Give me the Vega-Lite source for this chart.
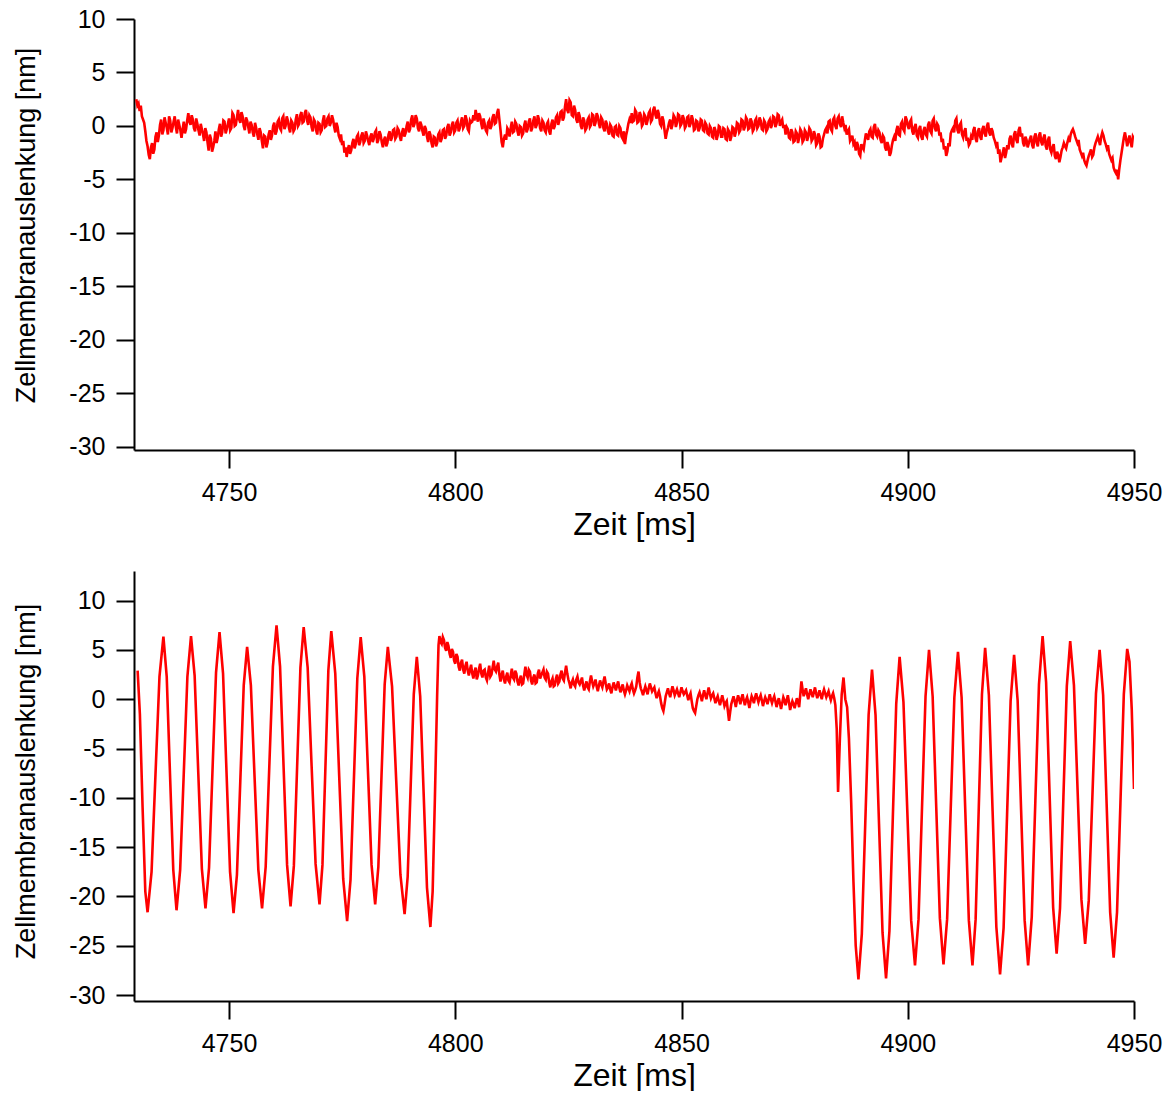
{
"$schema": "https://vega.github.io/schema/vega-lite/v6.json",
"background": "white",
"padding": {"left": 12, "top": 7, "right": 8, "bottom": 0},
"spacing": 31,
"datasets": {
"top": [
{"t":4729.5,"v":2.5},{"t":4729.75,"v":1.9},{"t":4730.0,"v":2.1},{"t":4730.25,"v":1.4},{"t":4730.5,"v":1.9},{"t":4730.75,"v":0.9},{"t":4731.0,"v":0.6},{"t":4731.25,"v":0.3},{"t":4731.5,"v":-0.5},{"t":4731.75,"v":-1.4},
{"t":4732.0,"v":-1.9},{"t":4732.25,"v":-2.7},{"t":4732.5,"v":-3.1},{"t":4732.75,"v":-2.0},{"t":4733.0,"v":-1.6},{"t":4733.25,"v":-2.6},{"t":4733.5,"v":-2.2},{"t":4733.75,"v":-1.0},{"t":4734.0,"v":-0.6},{"t":4734.25,"v":-1.5},
{"t":4734.5,"v":-0.9},{"t":4734.75,"v":0.1},{"t":4735.0,"v":0.6},{"t":4735.25,"v":-0.8},{"t":4735.5,"v":-0.4},{"t":4735.75,"v":0.8},{"t":4736.0,"v":0.3},{"t":4736.25,"v":-0.2},{"t":4736.5,"v":-0.8},{"t":4736.75,"v":0.9},
{"t":4737.0,"v":0.5},{"t":4737.25,"v":-0.6},{"t":4737.5,"v":-0.2},{"t":4737.75,"v":0.4},{"t":4738.0,"v":0.9},{"t":4738.25,"v":-0.1},{"t":4738.5,"v":-0.7},{"t":4738.75,"v":0.6},{"t":4739.0,"v":0.1},{"t":4739.25,"v":-0.4},
{"t":4739.5,"v":-1.1},{"t":4739.75,"v":-0.3},{"t":4740.0,"v":0.4},{"t":4740.25,"v":-0.7},{"t":4740.5,"v":-0.3},{"t":4740.75,"v":0.5},{"t":4741.0,"v":1.2},{"t":4741.25,"v":0.4},{"t":4741.5,"v":0.1},{"t":4741.75,"v":1.0},
{"t":4742.0,"v":0.6},{"t":4742.25,"v":-0.2},{"t":4742.5,"v":-0.5},{"t":4742.75,"v":0.7},{"t":4743.0,"v":0.2},{"t":4743.25,"v":-0.4},{"t":4743.5,"v":-0.9},{"t":4743.75,"v":0.2},{"t":4744.0,"v":-0.3},{"t":4744.25,"v":-0.8},
{"t":4744.5,"v":-1.4},{"t":4744.75,"v":-0.2},{"t":4745.0,"v":-0.6},{"t":4745.25,"v":-1.5},{"t":4745.5,"v":-2.3},{"t":4745.75,"v":-0.8},{"t":4746.0,"v":-1.2},{"t":4746.25,"v":-2.4},{"t":4746.5,"v":-2.0},{"t":4746.75,"v":-1.4},
{"t":4747.0,"v":-0.5},{"t":4747.25,"v":-1.6},{"t":4747.5,"v":-1.1},{"t":4747.75,"v":-0.3},{"t":4748.0,"v":0.2},{"t":4748.25,"v":-1.0},{"t":4748.5,"v":-0.6},{"t":4748.75,"v":0.5},{"t":4749.0,"v":0.4},{"t":4749.25,"v":-0.7},
{"t":4749.5,"v":-0.3},{"t":4749.75,"v":0.2},{"t":4750.0,"v":0.7},{"t":4750.25,"v":-0.4},{"t":4750.5,"v":-0.2},{"t":4750.75,"v":1.2},{"t":4751.0,"v":1.0},{"t":4751.25,"v":0.0},{"t":4751.5,"v":0.1},{"t":4751.75,"v":0.8},
{"t":4752.0,"v":1.5},{"t":4752.25,"v":0.6},{"t":4752.5,"v":0.3},{"t":4752.75,"v":1.3},{"t":4753.0,"v":0.9},{"t":4753.25,"v":0.0},{"t":4753.5,"v":-0.4},{"t":4753.75,"v":0.8},{"t":4754.0,"v":0.5},{"t":4754.25,"v":-0.1},
{"t":4754.5,"v":-0.7},{"t":4754.75,"v":0.4},{"t":4755.0,"v":0.1},{"t":4755.25,"v":-0.6},{"t":4755.5,"v":-1.0},{"t":4755.75,"v":0.3},{"t":4756.0,"v":-0.2},{"t":4756.25,"v":-0.8},{"t":4756.5,"v":-1.3},{"t":4756.75,"v":-0.2},
{"t":4757.0,"v":-0.6},{"t":4757.25,"v":-1.4},{"t":4757.5,"v":-2.1},{"t":4757.75,"v":-0.9},{"t":4758.0,"v":-1.0},{"t":4758.25,"v":-2.0},{"t":4758.5,"v":-1.6},{"t":4758.75,"v":-0.8},{"t":4759.0,"v":-0.4},{"t":4759.25,"v":-1.3},
{"t":4759.5,"v":-0.9},{"t":4759.75,"v":0.0},{"t":4760.0,"v":0.3},{"t":4760.25,"v":-0.8},{"t":4760.5,"v":-0.5},{"t":4760.75,"v":0.4},{"t":4761.0,"v":0.6},{"t":4761.25,"v":-0.2},{"t":4761.5,"v":-0.4},{"t":4761.75,"v":0.7},
{"t":4762.0,"v":0.9},{"t":4762.25,"v":-0.3},{"t":4762.5,"v":0.0},{"t":4762.75,"v":0.9},{"t":4763.0,"v":0.5},{"t":4763.25,"v":-0.2},{"t":4763.5,"v":-0.6},{"t":4763.75,"v":0.5},{"t":4764.0,"v":0.3},{"t":4764.25,"v":-0.5},
{"t":4764.5,"v":-0.3},{"t":4764.75,"v":0.6},{"t":4765.0,"v":1.1},{"t":4765.25,"v":0.0},{"t":4765.5,"v":0.2},{"t":4765.75,"v":1.0},{"t":4766.0,"v":1.3},{"t":4766.25,"v":0.3},{"t":4766.5,"v":0.4},{"t":4766.75,"v":1.2},
{"t":4767.0,"v":1.5},{"t":4767.25,"v":0.5},{"t":4767.5,"v":0.1},{"t":4767.75,"v":1.0},{"t":4768.0,"v":0.8},{"t":4768.25,"v":-0.1},{"t":4768.5,"v":-0.5},{"t":4768.75,"v":0.6},{"t":4769.0,"v":0.4},{"t":4769.25,"v":-0.4},
{"t":4769.5,"v":-0.8},{"t":4769.75,"v":0.3},{"t":4770.0,"v":0.2},{"t":4770.25,"v":-0.6},{"t":4770.5,"v":-0.4},{"t":4770.75,"v":0.5},{"t":4771.0,"v":1.0},{"t":4771.25,"v":-0.1},{"t":4771.5,"v":0.0},{"t":4771.75,"v":0.7},
{"t":4772.0,"v":0.9},{"t":4772.25,"v":0.0},{"t":4772.5,"v":0.3},{"t":4772.75,"v":1.0},{"t":4773.0,"v":0.6},{"t":4773.25,"v":-0.1},{"t":4773.5,"v":-0.6},{"t":4773.75,"v":0.3},{"t":4774.0,"v":-0.1},{"t":4774.25,"v":-0.9},
{"t":4774.5,"v":-1.2},{"t":4774.75,"v":-0.8},{"t":4775.0,"v":-1.8},{"t":4775.25,"v":-1.4},{"t":4775.5,"v":-2.5},{"t":4775.75,"v":-2.0},{"t":4776.0,"v":-2.9},{"t":4776.25,"v":-2.2},{"t":4776.5,"v":-1.8},{"t":4776.75,"v":-2.6},
{"t":4777.0,"v":-2.3},{"t":4777.25,"v":-1.6},{"t":4777.5,"v":-1.2},{"t":4777.75,"v":-2.1},{"t":4778.0,"v":-1.7},{"t":4778.25,"v":-1.0},{"t":4778.5,"v":-0.8},{"t":4778.75,"v":-1.8},{"t":4779.0,"v":-1.5},{"t":4779.25,"v":-0.9},
{"t":4779.5,"v":-0.6},{"t":4779.75,"v":-1.6},{"t":4780.0,"v":-1.4},{"t":4780.25,"v":-0.5},{"t":4780.5,"v":-0.9},{"t":4780.75,"v":-1.4},{"t":4781.0,"v":-1.8},{"t":4781.25,"v":-1.0},{"t":4781.5,"v":-0.7},{"t":4781.75,"v":-1.5},
{"t":4782.0,"v":-1.2},{"t":4782.25,"v":-0.6},{"t":4782.5,"v":-0.4},{"t":4782.75,"v":-1.6},{"t":4783.0,"v":-1.3},{"t":4783.25,"v":-0.5},{"t":4783.5,"v":-0.8},{"t":4783.75,"v":-1.5},{"t":4784.0,"v":-2.0},{"t":4784.25,"v":-1.3},
{"t":4784.5,"v":-1.0},{"t":4784.75,"v":-1.9},{"t":4785.0,"v":-1.6},{"t":4785.25,"v":-0.8},{"t":4785.5,"v":-0.5},{"t":4785.75,"v":-1.4},{"t":4786.0,"v":-1.1},{"t":4786.25,"v":-0.4},{"t":4786.5,"v":-0.3},{"t":4786.75,"v":-1.2},
{"t":4787.0,"v":-1.0},{"t":4787.25,"v":-0.2},{"t":4787.5,"v":-0.4},{"t":4787.75,"v":-1.0},{"t":4788.0,"v":-1.4},{"t":4788.25,"v":-0.6},{"t":4788.5,"v":-0.2},{"t":4788.75,"v":-1.0},{"t":4789.0,"v":-0.7},{"t":4789.25,"v":0.0},
{"t":4789.5,"v":0.4},{"t":4789.75,"v":-0.6},{"t":4790.0,"v":-0.3},{"t":4790.25,"v":0.6},{"t":4790.5,"v":1.0},{"t":4790.75,"v":-0.1},{"t":4791.0,"v":0.2},{"t":4791.25,"v":1.0},{"t":4791.5,"v":0.7},{"t":4791.75,"v":-0.2},
{"t":4792.0,"v":-0.5},{"t":4792.25,"v":0.4},{"t":4792.5,"v":0.1},{"t":4792.75,"v":-0.5},{"t":4793.0,"v":-0.9},{"t":4793.25,"v":0.0},{"t":4793.5,"v":-0.3},{"t":4793.75,"v":-1.0},{"t":4794.0,"v":-1.5},{"t":4794.25,"v":-0.5},
{"t":4794.5,"v":-0.8},{"t":4794.75,"v":-1.6},{"t":4795.0,"v":-2.0},{"t":4795.25,"v":-1.0},{"t":4795.5,"v":-1.1},{"t":4795.75,"v":-1.9},{"t":4796.0,"v":-1.6},{"t":4796.25,"v":-0.8},{"t":4796.5,"v":-0.6},{"t":4796.75,"v":-1.5},
{"t":4797.0,"v":-1.2},{"t":4797.25,"v":-0.4},{"t":4797.5,"v":-0.3},{"t":4797.75,"v":-1.2},{"t":4798.0,"v":-0.9},{"t":4798.25,"v":-0.1},{"t":4798.5,"v":0.2},{"t":4798.75,"v":-0.9},{"t":4799.0,"v":-0.6},{"t":4799.25,"v":0.1},
{"t":4799.5,"v":0.4},{"t":4799.75,"v":-0.6},{"t":4800.0,"v":-0.4},{"t":4800.25,"v":0.3},{"t":4800.5,"v":0.5},{"t":4800.75,"v":-0.5},{"t":4801.0,"v":-0.2},{"t":4801.25,"v":0.4},{"t":4801.5,"v":0.8},{"t":4801.75,"v":-0.2},
{"t":4802.0,"v":0.0},{"t":4802.25,"v":1.0},{"t":4802.5,"v":0.6},{"t":4802.75,"v":-0.3},{"t":4803.0,"v":-0.5},{"t":4803.25,"v":0.5},{"t":4803.5,"v":0.3},{"t":4803.75,"v":0.4},{"t":4804.0,"v":1.0},{"t":4804.25,"v":0.5},
{"t":4804.5,"v":1.5},{"t":4804.75,"v":0.9},{"t":4805.0,"v":0.4},{"t":4805.25,"v":1.2},{"t":4805.5,"v":0.9},{"t":4805.75,"v":0.2},{"t":4806.0,"v":-0.3},{"t":4806.25,"v":0.7},{"t":4806.5,"v":0.2},{"t":4806.75,"v":-0.4},
{"t":4807.0,"v":-0.6},{"t":4807.25,"v":0.3},{"t":4807.5,"v":0.5},{"t":4807.75,"v":-0.3},{"t":4808.0,"v":0.0},{"t":4808.25,"v":0.8},{"t":4808.5,"v":1.1},{"t":4808.75,"v":0.2},{"t":4809.0,"v":0.3},{"t":4809.25,"v":1.2},
{"t":4809.5,"v":1.6},{"t":4809.75,"v":0.6},{"t":4810.0,"v":-0.4},{"t":4810.25,"v":-1.5},{"t":4810.5,"v":-2.0},{"t":4810.75,"v":-1.2},{"t":4811.0,"v":-0.8},{"t":4811.25,"v":-1.3},{"t":4811.5,"v":-0.2},{"t":4811.75,"v":-0.4},
{"t":4812.0,"v":-1.0},{"t":4812.25,"v":-0.2},{"t":4812.5,"v":0.4},{"t":4812.75,"v":-0.6},{"t":4813.0,"v":-0.5},{"t":4813.25,"v":0.4},{"t":4813.5,"v":0.2},{"t":4813.75,"v":-0.5},{"t":4814.0,"v":-0.9},{"t":4814.25,"v":0.0},
{"t":4814.5,"v":-0.1},{"t":4814.75,"v":-0.9},{"t":4815.0,"v":-0.7},{"t":4815.25,"v":0.1},{"t":4815.5,"v":0.5},{"t":4815.75,"v":-0.6},{"t":4816.0,"v":-0.3},{"t":4816.25,"v":0.4},{"t":4816.5,"v":0.7},{"t":4816.75,"v":-0.5},
{"t":4817.0,"v":-0.2},{"t":4817.25,"v":0.5},{"t":4817.5,"v":0.9},{"t":4817.75,"v":-0.2},{"t":4818.0,"v":0.1},{"t":4818.25,"v":1.0},{"t":4818.5,"v":0.6},{"t":4818.75,"v":-0.2},{"t":4819.0,"v":-0.5},{"t":4819.25,"v":0.5},
{"t":4819.5,"v":0.3},{"t":4819.75,"v":-0.4},{"t":4820.0,"v":-0.6},{"t":4820.25,"v":0.2},{"t":4820.5,"v":0.4},{"t":4820.75,"v":-0.5},{"t":4821.0,"v":-0.8},{"t":4821.25,"v":0.2},{"t":4821.5,"v":0.6},{"t":4821.75,"v":-0.3},
{"t":4822.0,"v":0.0},{"t":4822.25,"v":0.8},{"t":4822.5,"v":1.0},{"t":4822.75,"v":0.1},{"t":4823.0,"v":0.5},{"t":4823.25,"v":1.3},{"t":4823.5,"v":1.4},{"t":4823.75,"v":0.5},{"t":4824.0,"v":0.8},{"t":4824.25,"v":1.8},
{"t":4824.5,"v":2.5},{"t":4824.75,"v":1.5},{"t":4825.0,"v":1.2},{"t":4825.25,"v":2.4},{"t":4825.5,"v":2.2},{"t":4825.75,"v":1.0},{"t":4826.0,"v":0.9},{"t":4826.25,"v":1.9},{"t":4826.5,"v":1.5},{"t":4826.75,"v":0.6},
{"t":4827.0,"v":0.3},{"t":4827.25,"v":1.3},{"t":4827.5,"v":0.9},{"t":4827.75,"v":0.0},{"t":4828.0,"v":-0.3},{"t":4828.25,"v":0.8},{"t":4828.5,"v":0.5},{"t":4828.75,"v":-0.4},{"t":4829.0,"v":-0.2},{"t":4829.25,"v":0.6},
{"t":4829.5,"v":0.8},{"t":4829.75,"v":-0.1},{"t":4830.0,"v":0.1},{"t":4830.25,"v":1.1},{"t":4830.5,"v":1.0},{"t":4830.75,"v":0.0},{"t":4831.0,"v":0.3},{"t":4831.25,"v":1.2},{"t":4831.5,"v":0.9},{"t":4831.75,"v":0.2},
{"t":4832.0,"v":-0.2},{"t":4832.25,"v":0.8},{"t":4832.5,"v":0.6},{"t":4832.75,"v":-0.2},{"t":4833.0,"v":-0.5},{"t":4833.25,"v":0.5},{"t":4833.5,"v":0.2},{"t":4833.75,"v":-0.5},{"t":4834.0,"v":-0.8},{"t":4834.25,"v":0.1},
{"t":4834.5,"v":-0.1},{"t":4834.75,"v":-0.9},{"t":4835.0,"v":-1.0},{"t":4835.25,"v":-0.1},{"t":4835.5,"v":0.0},{"t":4835.75,"v":-0.8},{"t":4836.0,"v":-0.9},{"t":4836.25,"v":0.0},{"t":4836.5,"v":-0.2},{"t":4836.75,"v":-1.0},
{"t":4837.0,"v":-1.2},{"t":4837.25,"v":-0.5},{"t":4837.5,"v":-1.7},{"t":4837.75,"v":-0.9},{"t":4838.0,"v":-0.4},{"t":4838.25,"v":0.2},{"t":4838.5,"v":0.6},{"t":4838.75,"v":0.3},{"t":4839.0,"v":1.2},{"t":4839.25,"v":0.4},
{"t":4839.5,"v":0.5},{"t":4839.75,"v":1.5},{"t":4840.0,"v":1.3},{"t":4840.25,"v":0.3},{"t":4840.5,"v":0.4},{"t":4840.75,"v":1.3},{"t":4841.0,"v":1.0},{"t":4841.25,"v":0.0},{"t":4841.5,"v":0.2},{"t":4841.75,"v":1.1},
{"t":4842.0,"v":0.9},{"t":4842.25,"v":0.1},{"t":4842.5,"v":0.5},{"t":4842.75,"v":1.2},{"t":4843.0,"v":1.4},{"t":4843.25,"v":0.4},{"t":4843.5,"v":0.6},{"t":4843.75,"v":1.5},{"t":4844.0,"v":1.8},{"t":4844.25,"v":1.0},
{"t":4844.5,"v":0.7},{"t":4844.75,"v":1.5},{"t":4845.0,"v":1.1},{"t":4845.25,"v":0.2},{"t":4845.5,"v":0.0},{"t":4845.75,"v":0.9},{"t":4846.0,"v":0.5},{"t":4846.25,"v":-0.4},{"t":4846.5,"v":-1.2},{"t":4846.75,"v":-0.6},
{"t":4847.0,"v":-0.2},{"t":4847.25,"v":0.3},{"t":4847.5,"v":0.6},{"t":4847.75,"v":-0.3},{"t":4848.0,"v":0.1},{"t":4848.25,"v":1.0},{"t":4848.5,"v":0.8},{"t":4848.75,"v":-0.1},{"t":4849.0,"v":0.3},{"t":4849.25,"v":1.1},
{"t":4849.5,"v":1.0},{"t":4849.75,"v":0.0},{"t":4850.0,"v":0.2},{"t":4850.25,"v":1.0},{"t":4850.5,"v":0.7},{"t":4850.75,"v":-0.2},{"t":4851.0,"v":0.0},{"t":4851.25,"v":0.8},{"t":4851.5,"v":0.9},{"t":4851.75,"v":-0.1},
{"t":4852.0,"v":0.2},{"t":4852.25,"v":1.0},{"t":4852.5,"v":0.6},{"t":4852.75,"v":-0.4},{"t":4853.0,"v":-0.3},{"t":4853.25,"v":0.5},{"t":4853.5,"v":0.4},{"t":4853.75,"v":-0.5},{"t":4854.0,"v":-0.2},{"t":4854.25,"v":0.6},
{"t":4854.5,"v":0.5},{"t":4854.75,"v":-0.4},{"t":4855.0,"v":-0.5},{"t":4855.25,"v":0.3},{"t":4855.5,"v":0.1},{"t":4855.75,"v":-0.7},{"t":4856.0,"v":-0.8},{"t":4856.25,"v":0.0},{"t":4856.5,"v":-0.2},{"t":4856.75,"v":-1.0},
{"t":4857.0,"v":-1.1},{"t":4857.25,"v":-0.1},{"t":4857.5,"v":-0.4},{"t":4857.75,"v":-1.3},{"t":4858.0,"v":-0.9},{"t":4858.25,"v":0.0},{"t":4858.5,"v":-0.1},{"t":4858.75,"v":-1.0},{"t":4859.0,"v":-1.0},{"t":4859.25,"v":-0.2},
{"t":4859.5,"v":-0.3},{"t":4859.75,"v":-1.2},{"t":4860.0,"v":-1.3},{"t":4860.25,"v":-0.3},{"t":4860.5,"v":-0.5},{"t":4860.75,"v":-1.4},{"t":4861.0,"v":-1.0},{"t":4861.25,"v":-0.1},{"t":4861.5,"v":-0.2},{"t":4861.75,"v":-1.0},
{"t":4862.0,"v":-0.6},{"t":4862.25,"v":0.3},{"t":4862.5,"v":0.2},{"t":4862.75,"v":-0.6},{"t":4863.0,"v":-0.4},{"t":4863.25,"v":0.6},{"t":4863.5,"v":0.5},{"t":4863.75,"v":-0.4},{"t":4864.0,"v":-0.1},{"t":4864.25,"v":0.8},
{"t":4864.5,"v":0.6},{"t":4864.75,"v":-0.3},{"t":4865.0,"v":-0.2},{"t":4865.25,"v":0.7},{"t":4865.5,"v":0.4},{"t":4865.75,"v":-0.5},{"t":4866.0,"v":-0.3},{"t":4866.25,"v":0.5},{"t":4866.5,"v":0.7},{"t":4866.75,"v":-0.2},
{"t":4867.0,"v":0.0},{"t":4867.25,"v":0.8},{"t":4867.5,"v":0.5},{"t":4867.75,"v":-0.3},{"t":4868.0,"v":-0.4},{"t":4868.25,"v":0.5},{"t":4868.5,"v":0.3},{"t":4868.75,"v":-0.5},{"t":4869.0,"v":-0.3},{"t":4869.25,"v":0.4},
{"t":4869.5,"v":0.6},{"t":4869.75,"v":-0.2},{"t":4870.0,"v":0.1},{"t":4870.25,"v":0.9},{"t":4870.5,"v":0.8},{"t":4870.75,"v":-0.1},{"t":4871.0,"v":0.2},{"t":4871.25,"v":1.1},{"t":4871.5,"v":1.0},{"t":4871.75,"v":0.0},
{"t":4872.0,"v":0.4},{"t":4872.25,"v":0.6},{"t":4872.5,"v":-0.2},{"t":4872.75,"v":0.1},{"t":4873.0,"v":-0.8},{"t":4873.25,"v":-0.1},{"t":4873.5,"v":-0.3},{"t":4873.75,"v":-1.1},{"t":4874.0,"v":-1.2},{"t":4874.25,"v":-0.3},
{"t":4874.5,"v":-0.6},{"t":4874.75,"v":-1.5},{"t":4875.0,"v":-1.4},{"t":4875.25,"v":-0.5},{"t":4875.5,"v":-0.7},{"t":4875.75,"v":-1.6},{"t":4876.0,"v":-1.1},{"t":4876.25,"v":-0.3},{"t":4876.5,"v":-0.5},{"t":4876.75,"v":-1.5},
{"t":4877.0,"v":-1.3},{"t":4877.25,"v":-0.4},{"t":4877.5,"v":-0.6},{"t":4877.75,"v":-1.4},{"t":4878.0,"v":-1.0},{"t":4878.25,"v":-0.2},{"t":4878.5,"v":-0.4},{"t":4878.75,"v":-1.4},{"t":4879.0,"v":-1.2},{"t":4879.25,"v":-0.5},
{"t":4879.5,"v":-0.8},{"t":4879.75,"v":-1.8},{"t":4880.0,"v":-1.6},{"t":4880.25,"v":-0.7},{"t":4880.5,"v":-1.0},{"t":4880.75,"v":-2.0},{"t":4881.0,"v":-1.9},{"t":4881.25,"v":-1.2},{"t":4881.5,"v":-0.8},{"t":4881.75,"v":-0.4},
{"t":4882.0,"v":-0.2},{"t":4882.25,"v":-0.7},{"t":4882.5,"v":0.4},{"t":4882.75,"v":0.5},{"t":4883.0,"v":-0.3},{"t":4883.25,"v":-0.5},{"t":4883.5,"v":0.6},{"t":4883.75,"v":0.8},{"t":4884.0,"v":0.0},{"t":4884.25,"v":-0.3},
{"t":4884.5,"v":0.7},{"t":4884.75,"v":0.9},{"t":4885.0,"v":0.2},{"t":4885.25,"v":-0.1},{"t":4885.5,"v":0.9},{"t":4885.75,"v":0.3},{"t":4886.0,"v":-0.2},{"t":4886.25,"v":0.1},{"t":4886.5,"v":-0.8},{"t":4886.75,"v":-0.5},
{"t":4887.0,"v":-0.3},{"t":4887.25,"v":-1.4},{"t":4887.5,"v":-1.2},{"t":4887.75,"v":-0.9},{"t":4888.0,"v":-1.7},{"t":4888.25,"v":-1.5},{"t":4888.5,"v":-2.3},{"t":4888.75,"v":-1.5},{"t":4889.0,"v":-1.8},{"t":4889.25,"v":-2.6},
{"t":4889.5,"v":-2.8},{"t":4889.75,"v":-1.7},{"t":4890.0,"v":-2.0},{"t":4890.25,"v":-2.2},{"t":4890.5,"v":-1.4},{"t":4890.75,"v":-0.7},{"t":4891.0,"v":-1.0},{"t":4891.25,"v":-1.3},{"t":4891.5,"v":-0.5},{"t":4891.75,"v":-0.3},
{"t":4892.0,"v":-1.0},{"t":4892.25,"v":-1.1},{"t":4892.5,"v":-0.1},{"t":4892.75,"v":0.2},{"t":4893.0,"v":-0.8},{"t":4893.25,"v":-1.0},{"t":4893.5,"v":-0.4},{"t":4893.75,"v":-0.6},{"t":4894.0,"v":-1.3},{"t":4894.25,"v":-1.6},
{"t":4894.5,"v":-0.9},{"t":4894.75,"v":-1.1},{"t":4895.0,"v":-2.0},{"t":4895.25,"v":-2.3},{"t":4895.5,"v":-1.5},{"t":4895.75,"v":-1.9},{"t":4896.0,"v":-2.8},{"t":4896.25,"v":-2.5},{"t":4896.5,"v":-1.8},{"t":4896.75,"v":-1.3},
{"t":4897.0,"v":-1.0},{"t":4897.25,"v":-1.4},{"t":4897.5,"v":-0.4},{"t":4897.75,"v":0.0},{"t":4898.0,"v":-0.8},{"t":4898.25,"v":-0.9},{"t":4898.5,"v":0.2},{"t":4898.75,"v":0.4},{"t":4899.0,"v":-0.3},{"t":4899.25,"v":-0.5},
{"t":4899.5,"v":0.9},{"t":4899.75,"v":0.6},{"t":4900.0,"v":0.0},{"t":4900.25,"v":-0.3},{"t":4900.5,"v":0.4},{"t":4900.75,"v":0.6},{"t":4901.0,"v":-0.5},{"t":4901.25,"v":-0.8},{"t":4901.5,"v":-0.1},{"t":4901.75,"v":0.2},
{"t":4902.0,"v":-0.9},{"t":4902.25,"v":-1.1},{"t":4902.5,"v":-0.3},{"t":4902.75,"v":0.0},{"t":4903.0,"v":-1.0},{"t":4903.25,"v":-1.3},{"t":4903.5,"v":-0.4},{"t":4903.75,"v":-0.1},{"t":4904.0,"v":-0.8},{"t":4904.25,"v":-1.0},
{"t":4904.5,"v":0.1},{"t":4904.75,"v":0.4},{"t":4905.0,"v":-0.5},{"t":4905.25,"v":-0.7},{"t":4905.5,"v":0.5},{"t":4905.75,"v":0.7},{"t":4906.0,"v":-0.2},{"t":4906.25,"v":-0.5},{"t":4906.5,"v":0.2},{"t":4906.75,"v":0.0},
{"t":4907.0,"v":-0.9},{"t":4907.25,"v":-0.6},{"t":4907.5,"v":-1.5},{"t":4907.75,"v":-1.2},{"t":4908.0,"v":-2.2},{"t":4908.25,"v":-1.9},{"t":4908.5,"v":-2.8},{"t":4908.75,"v":-2.4},{"t":4909.0,"v":-1.6},{"t":4909.25,"v":-1.9},
{"t":4909.5,"v":-0.7},{"t":4909.75,"v":-0.4},{"t":4910.0,"v":-0.2},{"t":4910.25,"v":-0.6},{"t":4910.5,"v":0.5},{"t":4910.75,"v":0.7},{"t":4911.0,"v":-0.4},{"t":4911.25,"v":-0.7},{"t":4911.5,"v":0.1},{"t":4911.75,"v":0.3},
{"t":4912.0,"v":-0.8},{"t":4912.25,"v":-1.1},{"t":4912.5,"v":-0.5},{"t":4912.75,"v":-0.2},{"t":4913.0,"v":-1.4},{"t":4913.25,"v":-1.1},{"t":4913.5,"v":-1.8},{"t":4913.75,"v":-1.6},{"t":4914.0,"v":-1.0},{"t":4914.25,"v":-1.3},
{"t":4914.5,"v":-0.4},{"t":4914.75,"v":-0.1},{"t":4915.0,"v":-1.2},{"t":4915.25,"v":-1.5},{"t":4915.5,"v":-0.5},{"t":4915.75,"v":-0.2},{"t":4916.0,"v":-1.0},{"t":4916.25,"v":-1.3},{"t":4916.5,"v":-0.3},{"t":4916.75,"v":0.0},
{"t":4917.0,"v":-0.7},{"t":4917.25,"v":-1.0},{"t":4917.5,"v":0.0},{"t":4917.75,"v":0.3},{"t":4918.0,"v":-0.6},{"t":4918.25,"v":-0.9},{"t":4918.5,"v":-0.2},{"t":4918.75,"v":-0.5},{"t":4919.0,"v":-1.1},{"t":4919.25,"v":-1.4},
{"t":4919.5,"v":-1.8},{"t":4919.75,"v":-1.5},{"t":4920.0,"v":-2.6},{"t":4920.25,"v":-2.2},{"t":4920.5,"v":-3.4},{"t":4920.75,"v":-2.9},{"t":4921.0,"v":-2.5},{"t":4921.25,"v":-2.0},{"t":4921.5,"v":-3.0},{"t":4921.75,"v":-2.5},
{"t":4922.0,"v":-1.8},{"t":4922.25,"v":-2.2},{"t":4922.5,"v":-1.2},{"t":4922.75,"v":-0.9},{"t":4923.0,"v":-1.7},{"t":4923.25,"v":-2.0},{"t":4923.5,"v":-0.8},{"t":4923.75,"v":-0.5},{"t":4924.0,"v":-1.3},{"t":4924.25,"v":-1.6},
{"t":4924.5,"v":-0.4},{"t":4924.75,"v":-0.1},{"t":4925.0,"v":-1.0},{"t":4925.25,"v":-0.7},{"t":4925.5,"v":-1.6},{"t":4925.75,"v":-1.9},{"t":4926.0,"v":-1.0},{"t":4926.25,"v":-1.3},{"t":4926.5,"v":-2.0},{"t":4926.75,"v":-1.6},
{"t":4927.0,"v":-1.2},{"t":4927.25,"v":-0.9},{"t":4927.5,"v":-1.8},{"t":4927.75,"v":-2.1},{"t":4928.0,"v":-1.0},{"t":4928.25,"v":-0.7},{"t":4928.5,"v":-1.6},{"t":4928.75,"v":-1.9},{"t":4929.0,"v":-0.9},{"t":4929.25,"v":-0.6},
{"t":4929.5,"v":-1.5},{"t":4929.75,"v":-1.8},{"t":4930.0,"v":-1.1},{"t":4930.25,"v":-0.8},{"t":4930.5,"v":-1.9},{"t":4930.75,"v":-2.2},{"t":4931.0,"v":-1.3},{"t":4931.25,"v":-1.0},{"t":4931.5,"v":-2.2},{"t":4931.75,"v":-2.5},
{"t":4932.0,"v":-2.0},{"t":4932.25,"v":-1.7},{"t":4932.5,"v":-2.8},{"t":4932.75,"v":-3.1},{"t":4933.0,"v":-2.4},{"t":4933.25,"v":-2.7},{"t":4933.5,"v":-3.4},{"t":4933.75,"v":-2.9},{"t":4934.0,"v":-2.3},{"t":4934.25,"v":-2.0},
{"t":4934.5,"v":-1.6},{"t":4934.75,"v":-1.9},{"t":4935.0,"v":-2.1},{"t":4935.25,"v":-1.6},{"t":4935.5,"v":-1.2},{"t":4935.75,"v":-1.5},{"t":4936.0,"v":-0.8},{"t":4936.25,"v":-0.5},{"t":4936.5,"v":-0.3},{"t":4936.75,"v":-0.6},
{"t":4937.0,"v":-1.0},{"t":4937.25,"v":-1.3},{"t":4937.5,"v":-1.6},{"t":4937.75,"v":-1.3},{"t":4938.0,"v":-2.2},{"t":4938.25,"v":-2.5},{"t":4938.5,"v":-2.8},{"t":4938.75,"v":-2.5},{"t":4939.0,"v":-3.2},{"t":4939.25,"v":-3.5},
{"t":4939.5,"v":-3.7},{"t":4939.75,"v":-3.2},{"t":4940.0,"v":-2.8},{"t":4940.25,"v":-2.5},{"t":4940.5,"v":-2.2},{"t":4940.75,"v":-2.9},{"t":4941.0,"v":-2.7},{"t":4941.25,"v":-2.0},{"t":4941.5,"v":-1.6},{"t":4941.75,"v":-1.3},
{"t":4942.0,"v":-1.0},{"t":4942.25,"v":-1.4},{"t":4942.5,"v":-1.8},{"t":4942.75,"v":-1.0},{"t":4943.0,"v":-0.6},{"t":4943.25,"v":-0.9},{"t":4943.5,"v":-1.4},{"t":4943.75,"v":-1.7},{"t":4944.0,"v":-2.1},{"t":4944.25,"v":-1.8},
{"t":4944.5,"v":-2.6},{"t":4944.75,"v":-2.9},{"t":4945.0,"v":-3.2},{"t":4945.25,"v":-3.0},{"t":4945.5,"v":-3.9},{"t":4945.75,"v":-4.2},{"t":4946.0,"v":-4.4},{"t":4946.25,"v":-4.1},{"t":4946.5,"v":-5.0},{"t":4946.75,"v":-4.0},
{"t":4947.0,"v":-3.2},{"t":4947.25,"v":-2.5},{"t":4947.5,"v":-1.8},{"t":4947.75,"v":-1.1},{"t":4948.0,"v":-0.6},{"t":4948.25,"v":-1.2},{"t":4948.5,"v":-1.9},{"t":4948.75,"v":-1.4},{"t":4949.0,"v":-0.9},{"t":4949.25,"v":-1.5},
{"t":4949.5,"v":-2.0},{"t":4949.75,"v":-1.0},{"t":4950.0,"v":-1.2}
],
"bottom": [
{"t":4729.8,"v":2.9},{"t":4730.3,"v":-1.5},{"t":4730.9,"v":-11.0},{"t":4731.5,"v":-19.5},{"t":4732.0,"v":-21.6},{"t":4732.88,"v":-17.5},{"t":4733.75,"v":-7.6},{"t":4734.63,"v":2.3},
{"t":4735.5,"v":6.35},{"t":4736.23,"v":2.3},{"t":4736.95,"v":-7.5},{"t":4737.68,"v":-17.3},{"t":4738.4,"v":-21.4},{"t":4739.2,"v":-17.3},{"t":4740.0,"v":-7.5},{"t":4740.8,"v":2.3},
{"t":4741.6,"v":6.4},{"t":4742.4,"v":2.4},{"t":4743.2,"v":-7.4},{"t":4744.0,"v":-17.2},{"t":4744.8,"v":-21.2},{"t":4745.58,"v":-17.1},{"t":4746.35,"v":-7.2},{"t":4747.13,"v":2.7},
{"t":4747.9,"v":6.8},{"t":4748.68,"v":2.6},{"t":4749.45,"v":-7.45},{"t":4750.23,"v":-17.5},{"t":4751.0,"v":-21.7},{"t":4751.75,"v":-17.8},{"t":4752.5,"v":-8.2},{"t":4753.25,"v":1.4},
{"t":4754.0,"v":5.3},{"t":4754.83,"v":1.4},{"t":4755.65,"v":-7.95},{"t":4756.48,"v":-17.3},{"t":4757.3,"v":-21.2},{"t":4758.1,"v":-17.0},{"t":4758.9,"v":-6.85},{"t":4759.7,"v":3.3},
{"t":4760.5,"v":7.5},{"t":4761.28,"v":3.3},{"t":4762.05,"v":-6.75},{"t":4762.83,"v":-16.8},{"t":4763.6,"v":-21.0},{"t":4764.33,"v":-16.9},{"t":4765.05,"v":-6.85},{"t":4765.78,"v":3.2},
{"t":4766.5,"v":7.3},{"t":4767.38,"v":3.2},{"t":4768.25,"v":-6.75},{"t":4769.13,"v":-16.7},{"t":4770.0,"v":-20.8},{"t":4770.65,"v":-16.8},{"t":4771.3,"v":-6.95},{"t":4771.95,"v":2.9},
{"t":4772.6,"v":6.9},{"t":4773.48,"v":2.6},{"t":4774.35,"v":-7.8},{"t":4775.23,"v":-18.2},{"t":4776.1,"v":-22.5},{"t":4776.85,"v":-18.3},{"t":4777.6,"v":-8.1},{"t":4778.35,"v":2.1},
{"t":4779.1,"v":6.3},{"t":4779.9,"v":2.3},{"t":4780.7,"v":-7.25},{"t":4781.5,"v":-16.8},{"t":4782.3,"v":-20.8},{"t":4783.0,"v":-17.0},{"t":4783.7,"v":-7.75},{"t":4784.4,"v":1.5},
{"t":4785.1,"v":5.3},{"t":4786.03,"v":1.3},{"t":4786.95,"v":-8.25},{"t":4787.88,"v":-17.8},{"t":4788.8,"v":-21.8},{"t":4789.48,"v":-18.0},{"t":4790.15,"v":-8.75},{"t":4790.83,"v":0.5},
{"t":4791.5,"v":4.3},{"t":4792.25,"v":0.3},{"t":4793.0,"v":-9.4},{"t":4793.75,"v":-19.1},{"t":4794.5,"v":-23.1},{"t":4795.0,"v":-19.5},{"t":4795.5,"v":-10.0},{"t":4796.0,"v":0.5},{"t":4796.3,"v":5.5},{"t":4796.5,"v":6.4},
{"t":4796.75,"v":5.8},{"t":4797.0,"v":5.6},{"t":4797.25,"v":6.3},{"t":4797.5,"v":6.0},{"t":4797.75,"v":5.2},{"t":4798.0,"v":4.9},{"t":4798.25,"v":5.8},{"t":4798.5,"v":5.4},{"t":4798.75,"v":4.6},{"t":4799.0,"v":4.2},
{"t":4799.25,"v":5.1},{"t":4799.5,"v":4.8},{"t":4799.75,"v":3.9},{"t":4800.0,"v":3.6},{"t":4800.25,"v":4.6},{"t":4800.5,"v":4.3},{"t":4800.75,"v":3.3},{"t":4801.0,"v":2.9},{"t":4801.25,"v":3.7},{"t":4801.5,"v":4.0},
{"t":4801.75,"v":3.0},{"t":4802.0,"v":2.6},{"t":4802.25,"v":3.4},{"t":4802.5,"v":3.8},{"t":4802.75,"v":2.9},{"t":4803.0,"v":2.4},{"t":4803.25,"v":3.0},{"t":4803.5,"v":3.5},{"t":4803.75,"v":2.6},{"t":4804.0,"v":2.1},
{"t":4804.25,"v":2.8},{"t":4804.5,"v":3.2},{"t":4804.75,"v":2.0},{"t":4805.0,"v":2.4},{"t":4805.25,"v":3.1},{"t":4805.5,"v":3.6},{"t":4805.75,"v":2.6},{"t":4806.0,"v":2.2},{"t":4806.25,"v":2.9},{"t":4806.5,"v":3.0},
{"t":4806.75,"v":2.2},{"t":4807.0,"v":1.9},{"t":4807.25,"v":2.7},{"t":4807.5,"v":3.4},{"t":4807.75,"v":2.3},{"t":4808.0,"v":2.5},{"t":4808.25,"v":3.2},{"t":4808.5,"v":3.9},{"t":4808.75,"v":3.0},{"t":4809.0,"v":2.8},
{"t":4809.25,"v":3.3},{"t":4809.5,"v":3.7},{"t":4809.75,"v":2.5},{"t":4810.0,"v":1.8},{"t":4810.25,"v":2.5},{"t":4810.5,"v":2.9},{"t":4810.75,"v":2.0},{"t":4811.0,"v":1.6},{"t":4811.25,"v":2.3},{"t":4811.5,"v":2.7},
{"t":4811.75,"v":1.9},{"t":4812.0,"v":1.7},{"t":4812.25,"v":2.4},{"t":4812.5,"v":3.1},{"t":4812.75,"v":2.2},{"t":4813.0,"v":2.0},{"t":4813.25,"v":2.9},{"t":4813.5,"v":2.6},{"t":4813.75,"v":1.8},{"t":4814.0,"v":1.4},
{"t":4814.25,"v":2.0},{"t":4814.5,"v":2.4},{"t":4814.75,"v":1.5},{"t":4815.0,"v":1.6},{"t":4815.25,"v":2.5},{"t":4815.5,"v":3.3},{"t":4815.75,"v":2.5},{"t":4816.0,"v":2.2},{"t":4816.25,"v":3.0},{"t":4816.5,"v":2.8},
{"t":4816.75,"v":1.9},{"t":4817.0,"v":1.5},{"t":4817.25,"v":2.2},{"t":4817.5,"v":2.5},{"t":4817.75,"v":1.6},{"t":4818.0,"v":1.7},{"t":4818.25,"v":2.6},{"t":4818.5,"v":3.0},{"t":4818.75,"v":2.1},{"t":4819.0,"v":2.4},
{"t":4819.25,"v":2.7},{"t":4819.5,"v":3.0},{"t":4819.75,"v":2.2},{"t":4820.0,"v":2.0},{"t":4820.25,"v":2.8},{"t":4820.5,"v":2.6},{"t":4820.75,"v":1.7},{"t":4821.0,"v":1.2},{"t":4821.25,"v":1.8},{"t":4821.5,"v":2.1},
{"t":4821.75,"v":1.3},{"t":4822.0,"v":1.4},{"t":4822.25,"v":2.1},{"t":4822.5,"v":2.5},{"t":4822.75,"v":1.6},{"t":4823.0,"v":1.8},{"t":4823.25,"v":2.5},{"t":4823.5,"v":2.9},{"t":4823.75,"v":2.1},{"t":4824.0,"v":1.9},
{"t":4824.25,"v":2.7},{"t":4824.5,"v":3.4},{"t":4824.75,"v":2.6},{"t":4825.0,"v":2.0},{"t":4825.25,"v":1.6},{"t":4825.5,"v":1.1},{"t":4825.75,"v":1.7},{"t":4826.0,"v":2.0},{"t":4826.25,"v":1.5},{"t":4826.5,"v":1.3},
{"t":4826.75,"v":2.0},{"t":4827.0,"v":2.3},{"t":4827.25,"v":1.7},{"t":4827.5,"v":1.5},{"t":4827.75,"v":1.8},{"t":4828.0,"v":2.2},{"t":4828.25,"v":1.4},{"t":4828.5,"v":0.9},{"t":4828.75,"v":1.4},{"t":4829.0,"v":1.8},
{"t":4829.25,"v":1.2},{"t":4829.5,"v":1.0},{"t":4829.75,"v":1.8},{"t":4830.0,"v":2.4},{"t":4830.25,"v":1.8},{"t":4830.5,"v":1.3},{"t":4830.75,"v":1.6},{"t":4831.0,"v":2.0},{"t":4831.25,"v":1.3},{"t":4831.5,"v":0.8},
{"t":4831.75,"v":1.4},{"t":4832.0,"v":1.9},{"t":4832.25,"v":1.5},{"t":4832.5,"v":1.2},{"t":4832.75,"v":1.8},{"t":4833.0,"v":2.3},{"t":4833.25,"v":1.6},{"t":4833.5,"v":1.0},{"t":4833.75,"v":1.2},{"t":4834.0,"v":1.6},
{"t":4834.25,"v":1.0},{"t":4834.5,"v":0.6},{"t":4834.75,"v":1.2},{"t":4835.0,"v":1.7},{"t":4835.25,"v":1.3},{"t":4835.5,"v":0.9},{"t":4835.75,"v":1.4},{"t":4836.0,"v":1.8},{"t":4836.25,"v":1.2},{"t":4836.5,"v":0.7},
{"t":4836.75,"v":1.1},{"t":4837.0,"v":1.5},{"t":4837.25,"v":0.9},{"t":4837.5,"v":0.5},{"t":4837.75,"v":0.9},{"t":4838.0,"v":1.4},{"t":4838.25,"v":1.1},{"t":4838.5,"v":0.8},{"t":4838.75,"v":1.3},{"t":4839.0,"v":1.6},
{"t":4839.25,"v":1.0},{"t":4839.5,"v":0.6},{"t":4839.75,"v":0.9},{"t":4840.0,"v":1.3},{"t":4840.25,"v":2.2},{"t":4840.5,"v":2.8},{"t":4840.75,"v":1.7},{"t":4841.0,"v":1.1},{"t":4841.25,"v":0.8},{"t":4841.5,"v":0.4},
{"t":4841.75,"v":0.9},{"t":4842.0,"v":1.3},{"t":4842.25,"v":0.9},{"t":4842.5,"v":0.5},{"t":4842.75,"v":1.1},{"t":4843.0,"v":1.6},{"t":4843.25,"v":1.2},{"t":4843.5,"v":0.8},{"t":4843.75,"v":1.0},{"t":4844.0,"v":1.2},
{"t":4844.25,"v":0.6},{"t":4844.5,"v":0.1},{"t":4844.75,"v":0.5},{"t":4845.0,"v":0.8},{"t":4845.25,"v":0.3},{"t":4845.5,"v":-0.4},{"t":4845.75,"v":-0.9},{"t":4846.0,"v":-1.2},{"t":4846.25,"v":-0.5},{"t":4846.5,"v":0.3},
{"t":4846.75,"v":0.7},{"t":4847.0,"v":1.1},{"t":4847.25,"v":0.6},{"t":4847.5,"v":0.2},{"t":4847.75,"v":0.8},{"t":4848.0,"v":1.3},{"t":4848.25,"v":0.9},{"t":4848.5,"v":0.4},{"t":4848.75,"v":0.7},{"t":4849.0,"v":1.0},
{"t":4849.25,"v":0.6},{"t":4849.5,"v":0.2},{"t":4849.75,"v":0.7},{"t":4850.0,"v":1.2},{"t":4850.25,"v":0.8},{"t":4850.5,"v":0.5},{"t":4850.75,"v":0.7},{"t":4851.0,"v":0.9},{"t":4851.25,"v":0.4},{"t":4851.5,"v":-0.1},
{"t":4851.75,"v":0.3},{"t":4852.0,"v":0.6},{"t":4852.25,"v":-0.2},{"t":4852.5,"v":-0.9},{"t":4852.75,"v":-1.2},{"t":4853.0,"v":-1.4},{"t":4853.25,"v":-0.7},{"t":4853.5,"v":0.0},{"t":4853.75,"v":0.4},{"t":4854.0,"v":0.7},
{"t":4854.25,"v":0.3},{"t":4854.5,"v":-0.2},{"t":4854.75,"v":0.4},{"t":4855.0,"v":0.9},{"t":4855.25,"v":0.4},{"t":4855.5,"v":0.0},{"t":4855.75,"v":0.6},{"t":4856.0,"v":1.2},{"t":4856.25,"v":0.6},{"t":4856.5,"v":0.1},
{"t":4856.75,"v":0.4},{"t":4857.0,"v":0.6},{"t":4857.25,"v":0.1},{"t":4857.5,"v":-0.4},{"t":4857.75,"v":0.0},{"t":4858.0,"v":0.3},{"t":4858.25,"v":-0.2},{"t":4858.5,"v":-0.6},{"t":4858.75,"v":-0.1},{"t":4859.0,"v":0.4},
{"t":4859.25,"v":-0.1},{"t":4859.5,"v":-0.7},{"t":4859.75,"v":-0.4},{"t":4860.0,"v":-0.2},{"t":4860.25,"v":-1.2},{"t":4860.5,"v":-2.2},{"t":4860.75,"v":-1.3},{"t":4861.0,"v":-0.5},{"t":4861.25,"v":-0.1},{"t":4861.5,"v":0.3},
{"t":4861.75,"v":-0.2},{"t":4862.0,"v":-0.8},{"t":4862.25,"v":-0.1},{"t":4862.5,"v":0.4},{"t":4862.75,"v":0.0},{"t":4863.0,"v":-0.5},{"t":4863.25,"v":0.1},{"t":4863.5,"v":0.5},{"t":4863.75,"v":-0.1},{"t":4864.0,"v":-0.6},
{"t":4864.25,"v":-0.1},{"t":4864.5,"v":0.2},{"t":4864.75,"v":-0.3},{"t":4865.0,"v":-0.9},{"t":4865.25,"v":-0.2},{"t":4865.5,"v":0.3},{"t":4865.75,"v":0.0},{"t":4866.0,"v":-0.4},{"t":4866.25,"v":0.2},{"t":4866.5,"v":0.6},
{"t":4866.75,"v":0.1},{"t":4867.0,"v":-0.3},{"t":4867.25,"v":0.1},{"t":4867.5,"v":0.4},{"t":4867.75,"v":-0.1},{"t":4868.0,"v":-0.7},{"t":4868.25,"v":-0.2},{"t":4868.5,"v":0.2},{"t":4868.75,"v":-0.1},{"t":4869.0,"v":-0.5},
{"t":4869.25,"v":0.0},{"t":4869.5,"v":0.5},{"t":4869.75,"v":0.0},{"t":4870.0,"v":-0.4},{"t":4870.25,"v":0.0},{"t":4870.5,"v":0.3},{"t":4870.75,"v":-0.2},{"t":4871.0,"v":-0.8},{"t":4871.25,"v":-0.3},{"t":4871.5,"v":0.1},
{"t":4871.75,"v":-0.4},{"t":4872.0,"v":-1.0},{"t":4872.25,"v":-0.4},{"t":4872.5,"v":0.2},{"t":4872.75,"v":-0.1},{"t":4873.0,"v":-0.6},{"t":4873.25,"v":-0.1},{"t":4873.5,"v":0.4},{"t":4873.75,"v":-0.3},{"t":4874.0,"v":-1.1},
{"t":4874.25,"v":-0.6},{"t":4874.5,"v":-0.2},{"t":4874.75,"v":-0.5},{"t":4875.0,"v":-0.9},{"t":4875.25,"v":-0.4},{"t":4875.5,"v":0.1},{"t":4875.75,"v":-0.3},{"t":4876.0,"v":-0.8},{"t":4876.25,"v":0.5},{"t":4876.5,"v":1.8},
{"t":4876.75,"v":1.0},{"t":4877.0,"v":0.3},{"t":4877.25,"v":0.7},{"t":4877.5,"v":1.1},{"t":4877.75,"v":0.5},{"t":4878.0,"v":0.0},{"t":4878.25,"v":0.5},{"t":4878.5,"v":1.0},{"t":4878.75,"v":0.6},{"t":4879.0,"v":0.2},
{"t":4879.25,"v":0.7},{"t":4879.5,"v":1.2},{"t":4879.75,"v":0.6},{"t":4880.0,"v":0.1},{"t":4880.25,"v":0.5},{"t":4880.5,"v":0.9},{"t":4880.75,"v":0.4},{"t":4881.0,"v":0.0},{"t":4881.25,"v":0.6},{"t":4881.5,"v":1.0},
{"t":4881.75,"v":0.6},{"t":4882.0,"v":0.2},{"t":4882.25,"v":0.5},{"t":4882.5,"v":0.8},{"t":4882.75,"v":0.3},{"t":4883.0,"v":-0.1},{"t":4883.25,"v":0.3},{"t":4883.5,"v":0.6},{"t":4883.75,"v":0.1},{"t":4884.0,"v":-0.6},
{"t":4884.3,"v":-3.0},{"t":4884.6,"v":-9.4},{"t":4885.0,"v":-4.0},{"t":4885.4,"v":0.5},{"t":4885.8,"v":2.2},
{"t":4886.2,"v":0.0},{"t":4886.6,"v":-0.8},{"t":4887.0,"v":-4.0},{"t":4887.5,"v":-10.5},{"t":4888.0,"v":-18.5},{"t":4888.5,"v":-25.0},{"t":4889.1,"v":-28.4},
{"t":4889.85,"v":-23.8},{"t":4890.6,"v":-12.7},{"t":4891.35,"v":-1.6},{"t":4892.1,"v":3.0},{"t":4892.88,"v":-1.6},{"t":4893.65,"v":-12.65},{"t":4894.43,"v":-23.7},{"t":4895.2,"v":-28.3},
{"t":4895.95,"v":-23.5},{"t":4896.7,"v":-12.0},{"t":4897.45,"v":-0.5},{"t":4898.2,"v":4.3},{"t":4899.05,"v":-0.3},{"t":4899.9,"v":-11.35},{"t":4900.75,"v":-22.4},{"t":4901.6,"v":-27.0},
{"t":4902.38,"v":-22.3},{"t":4903.15,"v":-11.0},{"t":4903.93,"v":0.3},{"t":4904.7,"v":5.0},{"t":4905.5,"v":0.3},{"t":4906.3,"v":-11.0},{"t":4907.1,"v":-22.2},{"t":4907.9,"v":-26.9},
{"t":4908.7,"v":-22.3},{"t":4909.5,"v":-11.05},{"t":4910.3,"v":0.2},{"t":4911.1,"v":4.8},{"t":4911.9,"v":0.2},{"t":4912.7,"v":-11.1},{"t":4913.5,"v":-22.4},{"t":4914.3,"v":-27.0},
{"t":4915.0,"v":-22.3},{"t":4915.7,"v":-10.9},{"t":4916.4,"v":0.5},{"t":4917.1,"v":5.2},{"t":4917.93,"v":0.4},{"t":4918.75,"v":-11.35},{"t":4919.58,"v":-23.1},{"t":4920.4,"v":-27.9},
{"t":4921.18,"v":-23.2},{"t":4921.95,"v":-11.7},{"t":4922.73,"v":-0.2},{"t":4923.5,"v":4.5},{"t":4924.28,"v":-0.1},{"t":4925.05,"v":-11.25},{"t":4925.83,"v":-22.4},{"t":4926.6,"v":-27.0},
{"t":4927.4,"v":-22.1},{"t":4928.2,"v":-10.3},{"t":4929.0,"v":1.5},{"t":4929.8,"v":6.4},{"t":4930.58,"v":1.7},{"t":4931.35,"v":-9.7},{"t":4932.13,"v":-21.1},{"t":4932.9,"v":-25.8},
{"t":4933.65,"v":-21.2},{"t":4934.4,"v":-9.95},{"t":4935.15,"v":1.3},{"t":4935.9,"v":5.9},{"t":4936.73,"v":1.4},{"t":4937.55,"v":-9.45},{"t":4938.38,"v":-20.3},{"t":4939.2,"v":-24.8},
{"t":4940.0,"v":-20.4},{"t":4940.8,"v":-9.9},{"t":4941.6,"v":0.6},{"t":4942.4,"v":5.0},{"t":4943.18,"v":0.4},{"t":4943.95,"v":-10.6},{"t":4944.73,"v":-21.6},{"t":4945.5,"v":-26.2},
{"t":4946.25,"v":-21.6},{"t":4947.0,"v":-10.55},{"t":4947.75,"v":0.5},{"t":4948.5,"v":5.1},{"t":4949.0,"v":3.8},{"t":4949.5,"v":-1.0},{"t":4950.0,"v":-9.1}
]
},
"vconcat": [
{
"width": 1000, "height": 431,
"data": {"name": "top"},
"mark": {"type": "line", "color": "#ff0000", "strokeWidth": 2.6, "clip": true},
"encoding": {
"x": {"field": "t", "type": "quantitative", "scale": {"domain": [4729, 4950], "nice": false, "zero": false},
"axis": {"title": "Zeit [ms]", "values": [4750, 4800, 4850, 4900, 4950], "format": "d", "labelPadding": 12, "titleFontSize": 32, "titlePadding": 4, "labelFlush": false, "labelOverlap": false}},
"y": {"field": "v", "type": "quantitative", "scale": {"domain": [-30.3, 10], "nice": false, "zero": false},
"axis": {"title": "Zellmembranauslenkung [nm]", "values": [-30, -25, -20, -15, -10, -5, 0, 5, 10], "labelExpr": "datum.value < 0 ? '-' + abs(datum.value) : '' + datum.value", "labelPadding": 11, "titleFontSize": 27, "titlePadding": 28, "titleY": 206, "labelFlush": false, "labelOverlap": false}}
}
},
{
"width": 1000, "height": 430,
"data": {"name": "bottom"},
"mark": {"type": "line", "color": "#ff0000", "strokeWidth": 2.6, "clip": true},
"encoding": {
"x": {"field": "t", "type": "quantitative", "scale": {"domain": [4729, 4950], "nice": false, "zero": false},
"axis": {"title": "Zeit [ms]", "values": [4750, 4800, 4850, 4900, 4950], "format": "d", "labelPadding": 12, "titleFontSize": 32, "titlePadding": 4, "labelFlush": false, "labelOverlap": false}},
"y": {"field": "v", "type": "quantitative", "scale": {"domain": [-30.6, 13.0], "nice": false, "zero": false},
"axis": {"title": "Zellmembranauslenkung [nm]", "values": [-30, -25, -20, -15, -10, -5, 0, 5, 10], "labelExpr": "datum.value < 0 ? '-' + abs(datum.value) : '' + datum.value", "labelPadding": 11, "titleFontSize": 27, "titlePadding": 28, "titleY": 210, "labelFlush": false, "labelOverlap": false}}
}
}
],
"config": {
"view": {"stroke": null},
"font": "Liberation Sans",
"axis": {"domainColor": "black", "domainWidth": 2, "tickColor": "black", "tickWidth": 2, "tickSize": 18, "grid": false,
"labelFont": "Liberation Sans", "labelFontSize": 25, "labelColor": "black",
"titleFont": "Liberation Sans", "titleFontWeight": "normal", "titleColor": "black"}
}
}
